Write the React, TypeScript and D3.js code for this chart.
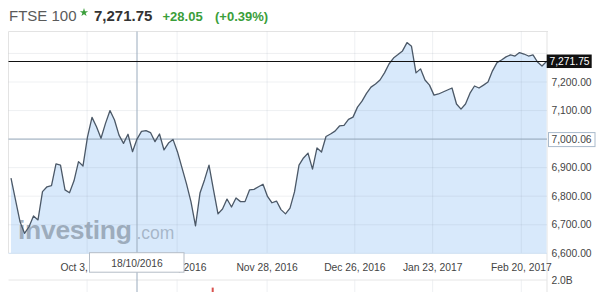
import React from "react";
import * as d3 from "d3";

const prices: number[] = [
  6863, 6787, 6711, 6670, 6693, 6731, 6717, 6816, 6833, 6837,
  6913, 6909, 6822, 6812, 6854, 6921, 6906, 7008, 7076, 7043,
  7003, 7055, 7100, 7067, 7014, 6985, 7017, 6956, 7000.06, 7027,
  7030, 7023, 6991, 7018, 6962, 6986, 6999, 6955, 6899, 6843,
  6780, 6696, 6811, 6857, 6909, 6822, 6738, 6755, 6790, 6762,
  6794, 6781, 6781, 6822, 6824, 6833, 6842, 6799, 6777, 6783,
  6753, 6738, 6758, 6815, 6909, 6934, 6951, 6895, 6969, 6955,
  7009, 7018, 7028, 7046, 7048, 7069, 7077, 7112, 7133, 7160,
  7182, 7193, 7207, 7232, 7263, 7284, 7296, 7309, 7338, 7325,
  7232, 7246, 7207, 7189, 7154, 7158, 7165, 7172, 7179, 7123,
  7105, 7123, 7161, 7186, 7179, 7189, 7200, 7239, 7268, 7277,
  7288, 7295, 7291, 7303, 7298, 7291, 7295, 7270, 7256, 7271.75,
];

const xTickPos: number[] = [16.9, 36.9, 56.9, 76.4, 93.7, 113.4];
const xTickLabels: string[] = ["Oct 3, 2016", "Oct 31, 2016", "Nov 28, 2016", "Dec 26, 2016", "Jan 23, 2017", "Feb 20, 2017"];
const yTicks: number[] = [6600, 6700, 6800, 6900, 7000, 7100, 7200];
const yGrid: number[] = [6700, 6800, 6900, 7100, 7200, 7300];

const title = "FTSE 100";
const lastPrice = 7271.75;
const change = "+28.05";
const changePct = "(+0.39%)";
const crossIndex = 28;
const crossDate = "18/10/2016";
const volumeBars: { i: number; v: number }[] = [{ i: 45, v: 1.62e9 }];
const volumeTickLabel = "2.0B";
const volumeTick = 2.0e9;

const FONT = "'Liberation Sans', Arial, sans-serif";

export default function App() {
  const W = 600, H = 292;
  const left = 8.5, right = 547, top = 31.5, bottom = 253.3;
  const x = d3.scaleLinear().domain([0, prices.length - 1]).range([11, 546.5]);
  const y = d3.scaleLinear().domain([6600, 7200]).range([253.3, 82]);
  const yv = d3.scaleLinear().domain([0, volumeTick]).range([320, 280]);
  const fmt = d3.format(",.2f");

  const area = d3.area<number>().x((_, i) => x(i)).y0(bottom).y1((d) => y(d));
  const line = d3.line<number>().x((_, i) => x(i)).y((d) => y(d));

  const crossVal = prices[crossIndex];
  const cx = x(crossIndex);
  const cy = y(crossVal);
  const lastY = y(lastPrice);
  const star = d3.symbol().type(d3.symbolStar).size(22)() as string;

  return (
    <svg width={W} height={H} style={{ position: "absolute", left: 0, top: 0, background: "#fff" }} fontFamily={FONT}>
      {/* header */}
      <text x={9} y={21} fontSize={15} fill="#5a5a5a">{title}</text>
      <path d={star} transform="translate(84,12.5)" fill="#3a9e3a" />
      <text x={94} y={21} fontSize={15} fontWeight="bold" fill="#333">{fmt(lastPrice)}</text>
      <text x={162.5} y={21} fontSize={13} fontWeight="bold" fill="#3a9e3a">{change}</text>
      <text x={215} y={21} fontSize={13} fontWeight="bold" fill="#3a9e3a">{changePct}</text>

      {/* frame */}
      <line x1={left} x2={right + 1} y1={top} y2={top} stroke="#e3e3e3" />
      <line x1={left} x2={left} y1={top} y2={bottom} stroke="#e3e3e3" />
      <line x1={right} x2={right} y1={top} y2={H} stroke="#e3e3e3" />

      {/* fill */}
      <path d={area(prices) || ""} fill="#d8e9fb" />

      {/* grid */}
      {yGrid.map((v) => (
        <line key={"hg" + v} x1={left} x2={right} y1={y(v)} y2={y(v)} stroke="#7f8c99" strokeOpacity={0.13} />
      ))}
      {xTickPos.map((p, k) => (
        <g key={"vg" + k}>
          <line x1={x(p)} x2={x(p)} y1={top} y2={bottom} stroke="#7f8c99" strokeOpacity={0.13} />
          <line x1={x(p)} x2={x(p)} y1={279.5} y2={H} stroke="#7f8c99" strokeOpacity={0.13} />
        </g>
      ))}
      <line x1={left} x2={right} y1={bottom} y2={bottom} stroke="#cfe0f2" />
      <line x1={left} x2={right} y1={yv(volumeTick)} y2={yv(volumeTick)} stroke="#e6e6e6" />

      {/* watermark */}
      <text x={18} y={238.7} fontSize={26.5} fontWeight="bold" fill="#8a98a8" fillOpacity={0.75} letterSpacing={-0.3}>investing</text>
      <text x={136.5} y={238.7} fontSize={17.5} fill="#9aaabb" fillOpacity={0.8}>.com</text>

      {/* volume */}
      {volumeBars.map((b) => (
        <rect key={"vb" + b.i} x={x(b.i) - 1.8} width={2} y={yv(b.v)} height={H - yv(b.v)} fill="#d9534f" />
      ))}
      <text x={551.5} y={283.5} fontSize={10.3} fill="#444">{volumeTickLabel}</text>

      {/* crosshair */}
      <line x1={left} x2={right} y1={cy} y2={cy} stroke="#8fa2b6" />
      <line x1={cx} x2={cx} y1={top} y2={H} stroke="#9aabbd" />

      {/* price line */}
      <path d={line(prices) || ""} fill="none" stroke="#4b5867" strokeWidth={1.3} strokeLinejoin="round" />

      {/* last price line */}
      <line x1={left} x2={right} y1={lastY} y2={lastY} stroke="#111" strokeWidth={1} />

      {/* y axis labels */}
      {yTicks.map((v) => (
        <text key={"yl" + v} x={551.5} y={y(v)} dy="0.35em" fontSize={10.3} fill="#444">{fmt(v)}</text>
      ))}

      {/* x axis labels */}
      {xTickPos.map((p, k) => (
        <text key={"xl" + k} x={x(p)} y={270.5} textAnchor="middle" fontSize={10.3} fill="#444">{xTickLabels[k]}</text>
      ))}

      {/* last price label */}
      <rect x={546.7} y={lastY - 7} width={45} height={13.5} fill="#111" />
      <text x={549.5} y={lastY} dy="0.35em" fontSize={10.3} fill="#fff">{fmt(lastPrice)}</text>

      {/* crosshair labels */}
      <rect x={548.5} y={cy - 6.5} width={46.5} height={14} fill="#fff" stroke="#a9bacb" />
      <text x={551.5} y={cy} dy="0.4em" fontSize={10.3} fill="#444">{fmt(crossVal)}</text>
      <rect x={89.5} y={252.7} width={94.5} height={19.5} fill="#fff" stroke="#b4bcc6" />
      <text x={cx} y={266.8} textAnchor="middle" fontSize={10.3} fill="#444">{crossDate}</text>
    </svg>
  );
}
